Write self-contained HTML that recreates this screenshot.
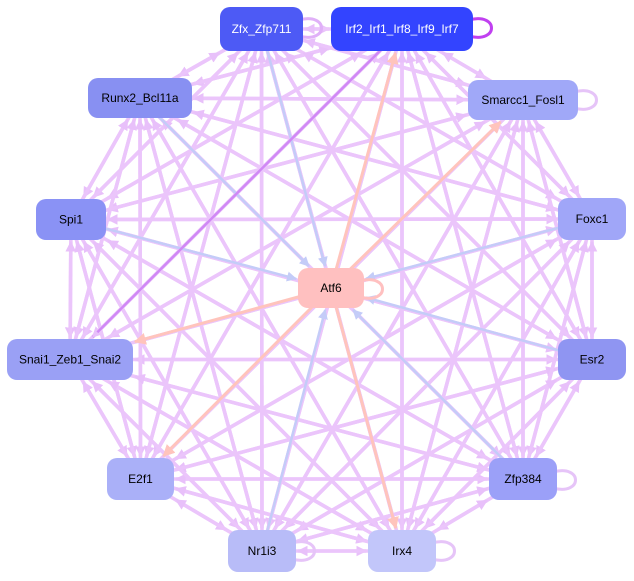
<!DOCTYPE html>
<html><head><meta charset="utf-8"><style>
html,body{margin:0;padding:0;background:#fff;width:634px;height:581px;overflow:hidden}
svg{display:block}
text{font-family:"Liberation Sans",sans-serif;font-size:12px;text-anchor:middle;dominant-baseline:central}
</style></head><body>
<svg id="s" width="634" height="581" viewBox="0 0 634 581">
<defs>
<marker id="a" viewBox="0 0 10 10" refX="9" refY="5" markerWidth="3" markerHeight="3" orient="auto"><path d="M0,0L10,5L0,10z" fill="#e8c0fa"/></marker>
<marker id="b" viewBox="0 0 10 10" refX="9" refY="5" markerWidth="4" markerHeight="4" orient="auto"><path d="M0,0L10,5L0,10z" fill="#c4ccf8"/></marker>
<marker id="c" viewBox="0 0 10 10" refX="9" refY="5" markerWidth="4" markerHeight="4" orient="auto"><path d="M0,0L10,5L0,10z" fill="#ffc4bc"/></marker>
</defs>
<g id="e"></g>
<g id="n"></g>
</svg>
<script>
var N=[
["Zfx_Zfp711",220,7,83,44,"#4d5af5","#fff"],
["Irf2_Irf1_Irf8_Irf9_Irf7",331,7,142,44,"#3344ff","#fff"],
["Runx2_Bcl11a",88,78,104,40,"#8890f2","#000"],
["Smarcc1_Fosl1",468,80,110,40,"#a0a8f8","#000"],
["Spi1",36,199,70,41,"#8a92f5","#000"],
["Foxc1",558,198,68,42,"#a0a6f8","#000"],
["Atf6",298,268,66,40,"#ffc0c0","#000"],
["Snai1_Zeb1_Snai2",7,339,126,41,"#9aa0f5","#000"],
["Esr2",558,339,68,41,"#8f95f2","#000"],
["E2f1",107,458,67,42,"#aab0f8","#000"],
["Zfp384",489,458,68,42,"#9ba0f8","#000"],
["Nr1i3",228,530,68,42,"#b8bcf8","#000"],
["Irx4",368,530,68,42,"#c2c6fa","#000"]];
var ns="http://www.w3.org/2000/svg",E=document.getElementById("e"),G=document.getElementById("n");
function ctr(i){var n=N[i];return [n[1]+n[3]/2,n[2]+n[4]/2];}
function line(i,j,col,w,m){var p=ctr(i),q=ctr(j);var dx=q[0]-p[0],dy=q[1]-p[1];
var n=N[j];var t=Math.min(Math.abs((n[3]/2+2)/(dx||1e-6)),Math.abs((n[4]/2+2)/(dy||1e-6)));
var l=document.createElementNS(ns,"line");l.setAttribute("x1",p[0]);l.setAttribute("y1",p[1]);
l.setAttribute("x2",q[0]-dx*t);l.setAttribute("y2",q[1]-dy*t);l.setAttribute("stroke",col);l.setAttribute("stroke-width",w);
l.setAttribute("marker-end","url(#"+m+")");E.appendChild(l);}
for(var i=0;i<N.length;i++)for(var j=0;j<N.length;j++){if(i==j||i==6||j==6)continue;line(i,j,"#ebc5fb",3.6,"a");}
[0,2,4,5,8,11,10].forEach(function(i){line(i,6,"#c4ccf8",2.5,"b");});
[1,3,7,9,12].forEach(function(i){line(6,i,"#ffc4bc",3,"c");});
line(1,7,"#d088f5",2.5,"a");
[[473,28,"#c040f0"],[303,28,"#e0b0f8"],[578,100,"#e6c4f8"],[364,289,"#ffc0c0"],[557,480,"#e6c4f8"],[296,551,"#e6c4f8"],[436,551,"#e6c4f8"]].forEach(function(s){
var p=document.createElementNS(ns,"path");p.setAttribute("d","M"+(s[0]-4)+","+(s[1]-8)+" C"+(s[0]+26)+","+(s[1]-16)+" "+(s[0]+26)+","+(s[1]+16)+" "+(s[0]-4)+","+(s[1]+8));
p.setAttribute("fill","none");p.setAttribute("stroke",s[2]);p.setAttribute("stroke-width",3);G.appendChild(p);});
N.forEach(function(n){var r=document.createElementNS(ns,"rect");r.setAttribute("x",n[1]);r.setAttribute("y",n[2]);
r.setAttribute("width",n[3]);r.setAttribute("height",n[4]);r.setAttribute("rx",10);r.setAttribute("fill",n[5]);G.appendChild(r);
var t=document.createElementNS(ns,"text");t.setAttribute("x",n[1]+n[3]/2);t.setAttribute("y",n[2]+n[4]/2);t.setAttribute("fill",n[6]);t.textContent=n[0];G.appendChild(t);});
</script>
</body></html>
